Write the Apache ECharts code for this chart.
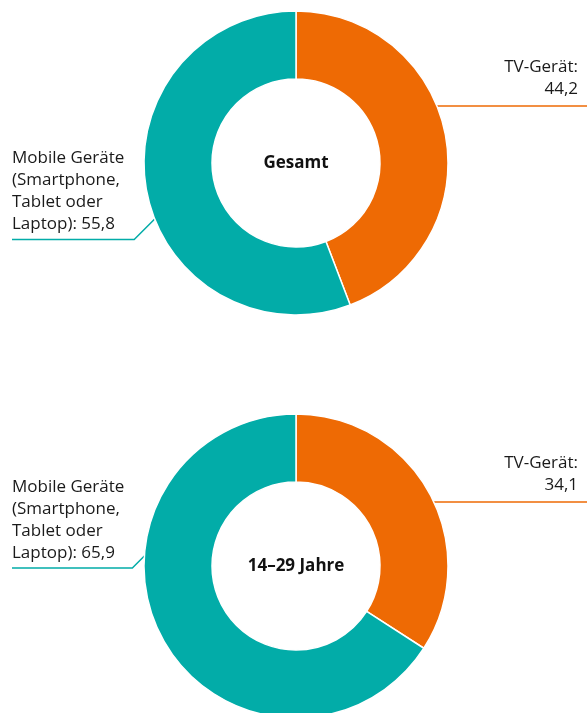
<!DOCTYPE html>
<html>
<head>
<meta charset="utf-8">
<script src="https://cdn.jsdelivr.net/npm/echarts@6/dist/echarts.min.js"></script>
<style>
html,body{margin:0;padding:0;background:#fff;}
#chart{width:587px;height:713px;}
</style>
</head>
<body>
<div id="chart"></div>
<script>
// ---- data ----
const categories = ['TV-Gerät', 'Mobile Geräte\n(Smartphone,\nTablet oder\nLaptop)'];
const groups = ['Gesamt', '14–29 Jahre'];
const valuesGesamt = [44.2, 55.8];
const values1429 = [34.1, 65.9];
const seriesValues = [valuesGesamt, values1429];

// ---- style / layout ----
const colors = ['#EE6A04', '#02ACA8'];
const centers = [[296, 163], [296, 566]];
const rInner = 84, rOuter = 152;
const labelGeom = [
  { tvLineY: -57, mobEndY: 56, mobLineY: 76.5 },
  { tvLineY: -64, mobEndY: -10, mobLineY: 2 }
];
const FONT = '"Open Sans", "Noto Sans", sans-serif';

const chart = echarts.init(document.getElementById('chart'), null, { renderer: 'canvas' });

function fmt(v) { return String(v).replace('.', ','); }

const series = seriesValues.map((vals, si) => ({
  type: 'pie',
  center: centers[si],
  radius: [rInner, rOuter],
  startAngle: 90,
  clockwise: true,
  avoidLabelOverlap: false,
  animation: false,
  silent: true,
  itemStyle: { borderColor: '#fff', borderWidth: 1.5 },
  label: {
    show: true,
    position: 'outside',
    fontFamily: FONT,
    fontSize: 17,
    lineHeight: 22,
    color: '#1a1a1a',
    formatter: p => p.name + ': ' + fmt(p.value)
  },
  labelLine: { show: true, lineStyle: { width: 1.5 } },
  labelLayout: function (params) {
    const g = labelGeom[si];
    const [cx, cy] = centers[si];
    if (params.dataIndex === 0) {
      const ly = cy + g.tvLineY;
      const sx = cx + Math.sqrt(rOuter * rOuter - g.tvLineY * g.tvLineY);
      return {
        x: 578, y: ly - 6, align: 'right', verticalAlign: 'bottom',
        labelLinePoints: [[sx, ly], [(sx + 587) / 2, ly], [587, ly]]
      };
    } else {
      const ey = cy + g.mobEndY;
      const ex = cx - Math.sqrt(rOuter * rOuter - g.mobEndY * g.mobEndY);
      const ly = cy + g.mobLineY;
      const elbowX = ex - (g.mobLineY - g.mobEndY);
      return {
        x: 12, y: ly - 4, align: 'left', verticalAlign: 'bottom',
        labelLinePoints: [[ex, ey], [elbowX, ly], [12, ly]]
      };
    }
  },
  data: categories.map((c, i) => ({
    name: i === 0 ? 'TV-Gerät' : c,
    value: vals[i],
    itemStyle: { color: colors[i] },
    label: i === 0 ? { formatter: p => p.name + ':\n' + fmt(p.value) } : {}
  }))
}));

chart.setOption({
  animation: false,
  backgroundColor: '#fff',
  graphic: groups.map((g, i) => ({
    type: 'text',
    x: centers[i][0],
    y: centers[i][1],
    style: {
      text: g,
      fill: '#111',
      font: 'bold 17px ' + FONT,
      textAlign: 'center',
      textVerticalAlign: 'middle'
    }
  })),
  series: series
});
</script>
</body>
</html>
